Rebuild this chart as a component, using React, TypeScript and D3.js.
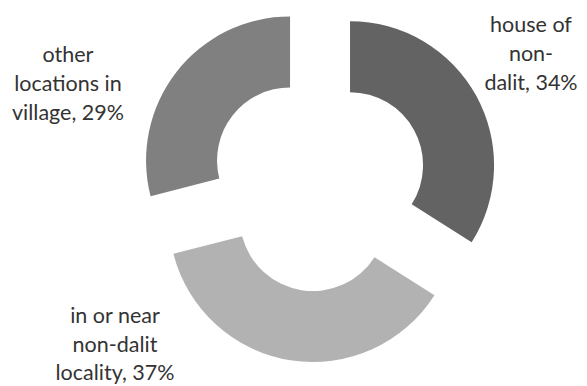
import React from "react";
import * as d3 from "d3";

const categories = ["house of non-dalit", "in or near non-dalit locality", "other locations in village"];
const values = [34, 37, 29];
const colors = ["#636363", "#b2b2b2", "#808080"];
const labelLines = [
  ["house of", "non-", "dalit, 34%"],
  ["in or near", "non-dalit", "locality, 37%"],
  ["other", "locations in", "village, 29%"],
];
const labelPos = [
  [531, 32],
  [115, 323],
  [68, 62],
];

export default function App() {
  const W = 587, H = 386;
  const cx = 318.5, cy = 182.5;
  const outer = 144, inner = 73, explode = 36;
  const pie = d3.pie<number>().sort(null).value((d) => d);
  const arcs = pie(values);
  const arc = d3.arc<d3.PieArcDatum<number>>().innerRadius(inner).outerRadius(outer);
  return (
    <svg width={W} height={H} style={{ position: "absolute", left: 0, top: 0 }}>
      <rect width={W} height={H} fill="#ffffff" />
      {arcs.map((a, i) => {
        const mid = (a.startAngle + a.endAngle) / 2;
        const dx = Math.sin(mid) * explode, dy = -Math.cos(mid) * explode;
        return (
          <path key={categories[i]} d={arc(a) || ""} fill={colors[i]} transform={`translate(${cx + dx},${cy + dy})`} />
        );
      })}
      {labelLines.map((lines, i) => (
        <text key={i} textAnchor="middle" fontFamily="Lato, 'Open Sans', sans-serif" fontSize={21.5} fill="#333333">
          {lines.map((l, j) => (
            <tspan key={j} x={labelPos[i][0]} y={labelPos[i][1] + j * (i === 1 ? 28.5 : 29)}>{l}</tspan>
          ))}
        </text>
      ))}
    </svg>
  );
}
